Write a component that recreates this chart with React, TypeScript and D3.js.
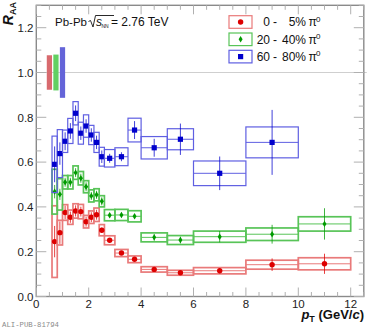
import * as d3 from "d3";

// pT bin edges (GeV/c)
const ptLow = [0.6, 0.8, 1.0, 1.2, 1.4, 1.6, 1.8, 2.0, 2.2, 2.4, 2.6, 3.0, 3.5, 4, 5, 6, 8, 10];
const ptHigh = [0.8, 1.0, 1.2, 1.4, 1.6, 1.8, 2.0, 2.2, 2.4, 2.6, 3.0, 3.5, 4.0, 5, 6, 8, 10, 12];

// 0-5%
const central = [0.245, 0.285, 0.375, 0.354, 0.382, 0.379, 0.334, 0.354, 0.365, 0.296, 0.251, 0.194, 0.166, 0.121, 0.106, 0.115, 0.142, 0.146];
const centralStat = [0.07, 0.05, 0.03, 0.025, 0.025, 0.022, 0.022, 0.022, 0.022, 0.012, 0.01, 0.008, 0.008, 0.007, 0.008, 0.012, 0.028, 0.045];
const centralSys = [0.16, 0.055, 0.035, 0.032, 0.032, 0.032, 0.028, 0.028, 0.03, 0.025, 0.02, 0.016, 0.015, 0.012, 0.011, 0.014, 0.02, 0.027];

// 20-40%
const semi = [0.468, 0.456, 0.51, 0.51, 0.553, 0.528, 0.49, 0.449, 0.454, 0.425, 0.363, 0.364, 0.358, 0.264, 0.252, 0.267, 0.278, 0.324];
const semiStat = [0.03, 0.025, 0.02, 0.02, 0.02, 0.02, 0.02, 0.018, 0.018, 0.018, 0.01, 0.01, 0.01, 0.015, 0.015, 0.025, 0.042, 0.07];
const semiSys = [0.1, 0.07, 0.03, 0.03, 0.03, 0.03, 0.027, 0.027, 0.027, 0.025, 0.025, 0.025, 0.025, 0.02, 0.02, 0.025, 0.028, 0.032];

// 60-80% (no last bin)
const periph = [0.59, 0.638, 0.693, 0.739, 0.818, 0.729, 0.761, 0.721, 0.688, 0.624, 0.617, 0.624, 0.743, 0.664, 0.702, 0.55, 0.688];
const periphStat = [0.08, 0.05, 0.04, 0.035, 0.035, 0.03, 0.03, 0.03, 0.03, 0.028, 0.02, 0.02, 0.04, 0.04, 0.07, 0.075, 0.145];
const periphSys = [0.126, 0.107, 0.05, 0.056, 0.052, 0.049, 0.05, 0.043, 0.045, 0.042, 0.039, 0.04, 0.053, 0.05, 0.047, 0.055, 0.069];

// normalisation uncertainties around 1
const normUnc = [0.077, 0.08, 0.113];
const normLow = [0.4, 0.65, 0.9];
const normHigh = [0.6, 0.85, 1.1];

const legendNum = ["0", "20", "60"];
const legendPct = ["5%", "40%", "80%"];
const xTicks = [0, 2, 4, 6, 8, 10, 12];
const yTicks = [0, 0.2, 0.4, 0.6, 0.8, 1.0, 1.2];

const series = [
  { key: "c", vals: central, stat: centralStat, sys: centralSys, marker: "#dd0000", box: "#e97a7a", norm: "#d86a6e", shape: "circle", sw: 1.7 },
  { key: "s", vals: semi, stat: semiStat, sys: semiSys, marker: "#009a00", box: "#58c458", norm: "#62d062", shape: "diamond", sw: 1.7 },
  { key: "p", vals: periph, stat: periphStat, sys: periphSys, marker: "#0000cc", box: "#5f5fe2", norm: "#6464d8", shape: "square", sw: 1.2 },
];

const font = "'Liberation Sans', Arial, sans-serif";

function Marker({ shape, cx, cy, color }: { shape: string; cx: number; cy: number; color: string }) {
  if (shape === "circle") return <circle cx={cx} cy={cy} r={2.7} fill={color} />;
  if (shape === "square") return <rect x={cx - 2.6} y={cy - 2.6} width={5.2} height={5.2} fill={color} />;
  return <path d={`M${cx},${cy - 3.2}L${cx + 2},${cy}L${cx},${cy + 3.2}L${cx - 2},${cy}Z`} fill={color} />;
}

export default function App() {
  const width = 368;
  const height = 330;
  const x = d3.scaleLinear().domain([0, 12.5]).range([36.3, 363.8]);
  const y = d3.scaleLinear().domain([0, 1.3]).range([296.5, 5.3]);
  const [x0, x1] = x.range();
  const [y0, y1] = y.range();

  const xMinor = d3.range(0, 12.51, 0.5);
  const yMinor = d3.range(0, 1.301, 0.05);
  const axisCol = "#8a8a8a";
  const tickCol = "#b0b0b0";

  return (
    <svg width={width} height={height} style={{ position: "absolute", left: 0, top: 0, background: "#fff" }} fontFamily={font}>
      {/* reference line at 1 */}
      <line x1={x0} x2={x1 + 3} y1={y(1)} y2={y(1)} stroke="#cfcfcf" strokeWidth={1} />

      {/* normalisation boxes */}
      {series.map((s, i) => (
        <rect key={"n" + i} x={x(normLow[i])} y={y(1 + normUnc[i])} width={x(normHigh[i]) - x(normLow[i])}
          height={y(1 - normUnc[i]) - y(1 + normUnc[i])} fill={s.norm} />
      ))}

      {/* data */}
      {series.map((s) => (
        <g key={s.key}>
          {s.vals.map((v, i) => {
            const xl = x(ptLow[i]);
            const xh = x(ptHigh[i]);
            const xc = x((ptLow[i] + ptHigh[i]) / 2);
            return (
              <g key={i}>
                <rect x={xl} y={y(v + s.sys[i])} width={xh - xl} height={y(v - s.sys[i]) - y(v + s.sys[i])}
                  fill="none" stroke={s.box} strokeWidth={s.sw} />
                <line x1={xl} x2={xh} y1={y(v)} y2={y(v)} stroke={s.box} strokeWidth={1} />
                <line x1={xc} x2={xc} y1={y(v - s.stat[i])} y2={y(v + s.stat[i])} stroke={s.marker} strokeOpacity={0.75} strokeWidth={1} />
                <Marker shape={s.shape} cx={xc} cy={y(v)} color={s.marker} />
              </g>
            );
          })}
        </g>
      ))}

      {/* frame */}
      <rect x={x0} y={y1} width={x1 - x0} height={y0 - y1} fill="none" stroke={axisCol} strokeWidth={1.4} />

      {/* ticks */}
      {xMinor.map((t, i) => {
        const major = Math.abs(t / 2 - Math.round(t / 2)) < 1e-6;
        const len = major ? 9 : 4.5;
        return (
          <g key={"xt" + i} stroke={tickCol} strokeWidth={1}>
            <line x1={x(t)} x2={x(t)} y1={y0} y2={y0 - len} />
            <line x1={x(t)} x2={x(t)} y1={y1} y2={y1 + len} />
          </g>
        );
      })}
      {yMinor.map((t, i) => {
        const major = Math.abs(t / 0.2 - Math.round(t / 0.2)) < 1e-6;
        const len = major ? 10 : 5;
        return (
          <g key={"yt" + i} stroke={tickCol} strokeWidth={1}>
            <line x1={x0} x2={x0 + len} y1={y(t)} y2={y(t)} />
            <line x1={x1} x2={x1 - len} y1={y(t)} y2={y(t)} />
          </g>
        );
      })}

      {/* tick labels */}
      {xTicks.map((t) => (
        <text key={"xl" + t} x={x(t)} y={307.5} fontSize={11.5} textAnchor="middle" fill="#222">{t}</text>
      ))}
      {yTicks.map((t) => (
        <text key={"yl" + t} x={33.5} y={y(t) + 4.2} fontSize={11.5} textAnchor="end" fill="#222">{t.toFixed(1)}</text>
      ))}

      {/* axis titles */}
      <text x={364} y={318.5} fontSize={13} fontWeight="bold" textAnchor="end" fill="#111">
        <tspan fontStyle="italic">p</tspan>
        <tspan fontSize={9} dy={3.5}>T</tspan>
        <tspan dy={-3.5}> (GeV/</tspan>
        <tspan fontStyle="italic">c</tspan>
        <tspan>)</tspan>
      </text>
      <text transform="translate(13,2) rotate(-90)" fontSize={14} fontWeight="bold" textAnchor="end" fill="#111">
        <tspan fontStyle="italic">R</tspan>
        <tspan fontSize={9} dy={2.5}>AA</tspan>
      </text>

      {/* system label */}
      <g fill="#111" fontSize={12}>
        <text x={55} y={26} fontSize={11.5}>Pb-Pb</text>
        <path d="M88.5,21.5 L90.5,20.5 L93,27 L95.5,15.5 L114,15.5" fill="none" stroke="#111" strokeWidth={0.9} />
        <text x={96} y={26} fontStyle="italic">s</text>
        <text x={101.5} y={28} fontSize={5}>NN</text>
        <text x={111} y={26}>= 2.76 TeV</text>
      </g>

      {/* legend */}
      {series.map((s, i) => {
        const cy = 22 + i * 17.3;
        return (
          <g key={"lg" + i}>
            <rect x={229} y={cy - 6.3} width={23} height={12.6} fill="none" stroke={s.box} strokeWidth={1.2} />
            <Marker shape={s.shape} cx={240.6} cy={cy} color={s.marker} />
            <g fontSize={12} fill="#111">
              <text x={270} y={cy + 4.3} textAnchor="end">{legendNum[i]}</text>
              <text x={275} y={cy + 4.3} textAnchor="middle">-</text>
              <text x={306} y={cy + 4.3} textAnchor="end">{legendPct[i]}</text>
              <text x={308.5} y={cy + 4.3}>π</text>
              <text x={316} y={cy - 0.5} fontSize={8}>0</text>
            </g>
          </g>
        );
      })}

      <text x={2} y={327} fontSize={7.3} fill="#8a8a8a" fontFamily="'Liberation Mono', monospace">ALI-PUB-81794</text>
    </svg>
  );
}
